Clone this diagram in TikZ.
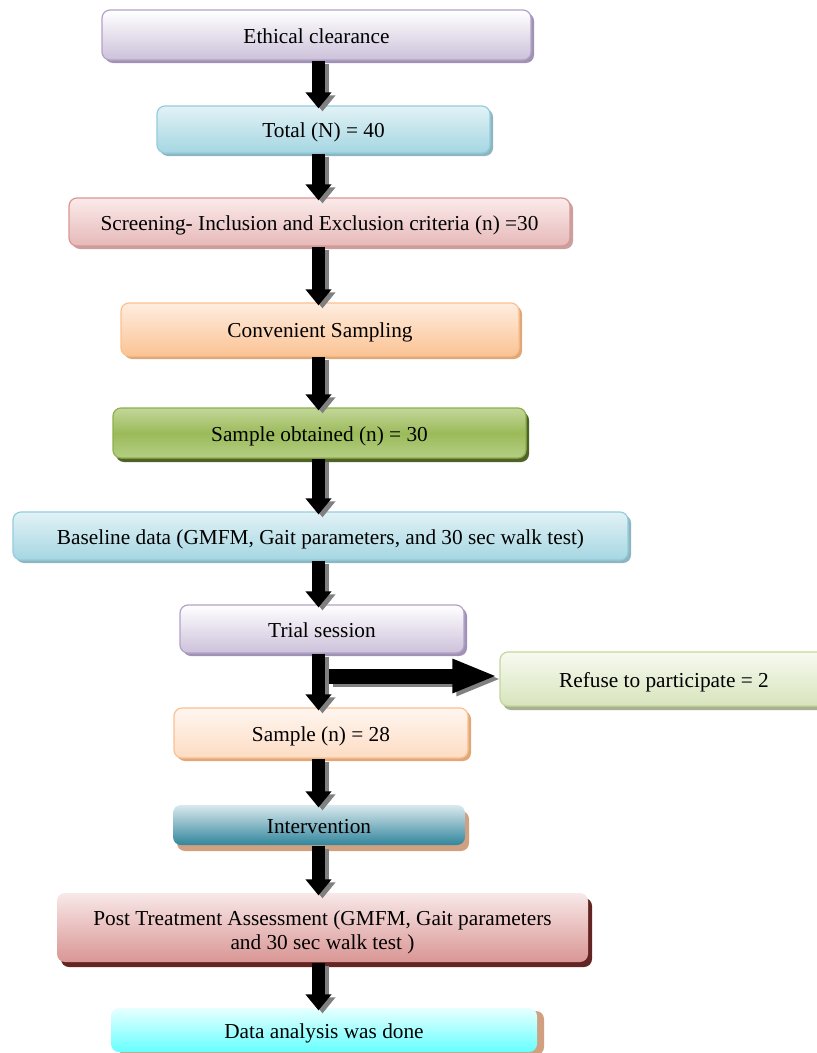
\documentclass[tikz,border=0pt]{standalone}
\usepackage{fontspec}
\setmainfont{Liberation Serif}
\usepackage{tikz}
\usetikzlibrary{arrows.meta,%
                shapes,shadows}
\definecolor{lilacedge}{HTML}{B3A2C7}
\definecolor{lilacfill}{HTML}{CCC1DA}
\definecolor{lilacshade}{HTML}{A092B5}
\definecolor{skyedge}{HTML}{93CDDD}
\definecolor{skytop}{HTML}{E2F2F6}
\definecolor{skyfill}{HTML}{A5D6E2}
\definecolor{skyshade}{HTML}{8DB6C2}
\definecolor{roseedge}{HTML}{D99694}
\definecolor{rosetop}{HTML}{FBEAEA}
\definecolor{rosefill}{HTML}{E6B9B8}
\definecolor{roseshade}{HTML}{C9A0A0}
\definecolor{peachedge}{HTML}{FAC090}
\definecolor{peachtop}{HTML}{FEEDE0}
\definecolor{peachfill}{HTML}{FBC393}
\definecolor{peachshade}{HTML}{E0A878}
\definecolor{paletop}{HTML}{FFF6F0}
\definecolor{palefill}{HTML}{FDDCC3}
\definecolor{leafedge}{HTML}{8EB04A}
\definecolor{leaftop}{HTML}{C3D69B}
\definecolor{leafmid}{HTML}{9BBB59}
\definecolor{leafbot}{HTML}{B5CE85}
\definecolor{leafshade}{HTML}{4F6228}
\definecolor{mossedge}{HTML}{C3D69B}
\definecolor{mosstop}{HTML}{F7FAF0}
\definecolor{mossfill}{HTML}{D7E4BD}
\definecolor{mossshade}{HTML}{A8B090}
\definecolor{tealtop}{HTML}{DAE9EE}
\definecolor{tealfill}{HTML}{31859C}
\definecolor{tanshade}{HTML}{D0A080}
\definecolor{winetop}{HTML}{F8E8E8}
\definecolor{winefill}{HTML}{D99694}
\definecolor{wineshade}{HTML}{632523}
\definecolor{aquatop}{HTML}{E8FFFF}
\definecolor{aquafill}{HTML}{66FFFF}
\definecolor{arrowshade}{HTML}{808080}
\tikzstyle{stage}=[rectangle,rounded corners=8bp,line width=1.2bp,inner sep=0pt,align=center,text height=17bp,text depth=1bp,font=\fontsize{21.3bp}{24bp}\selectfont]
\tikzstyle{lilacbox}=[stage,draw=lilacedge,top color=white,bottom color=lilacfill,drop shadow={shadow xshift=3bp,shadow yshift=-3bp,fill=lilacshade,opacity=1}]
\tikzstyle{skybox}=[stage,draw=skyedge,top color=skytop,bottom color=skyfill,drop shadow={shadow xshift=3bp,shadow yshift=-3bp,fill=skyshade,opacity=1}]
\tikzstyle{rosebox}=[stage,draw=roseedge,top color=rosetop,bottom color=rosefill,drop shadow={shadow xshift=3bp,shadow yshift=-3bp,fill=roseshade,opacity=1}]
\tikzstyle{peachbox}=[stage,draw=peachedge,top color=peachtop,bottom color=peachfill,drop shadow={shadow xshift=3bp,shadow yshift=-3bp,fill=peachshade,opacity=1}]
\tikzstyle{palebox}=[stage,draw=peachedge,top color=paletop,bottom color=palefill,drop shadow={shadow xshift=3bp,shadow yshift=-3bp,fill=peachshade,opacity=1}]
\tikzstyle{leafbox}=[stage,draw=leafedge,top color=leaftop,bottom color=leafbot,middle color=leafmid,drop shadow={shadow xshift=3bp,shadow yshift=-4bp,fill=leafshade,opacity=1}]
\tikzstyle{mossbox}=[stage,draw=mossedge,top color=mosstop,bottom color=mossfill,drop shadow={shadow xshift=3bp,shadow yshift=-4bp,fill=mossshade,opacity=1}]
\tikzstyle{tealbox}=[stage,top color=tealtop,bottom color=tealfill,drop shadow={shadow xshift=4bp,shadow yshift=-6bp,fill=tanshade,opacity=1}]
\tikzstyle{winebox}=[stage,top color=winetop,bottom color=winefill,drop shadow={shadow xshift=4bp,shadow yshift=-5bp,fill=wineshade,opacity=1}]
\tikzstyle{aquabox}=[stage,top color=aquatop,bottom color=aquafill,drop shadow={shadow xshift=7bp,shadow yshift=-3bp,fill=tanshade,opacity=1}]
\tikzstyle{flow}=[line width=13bp,-{Triangle[width=25bp,length=16bp]},shorten >=-3bp]
\tikzstyle{flowshade}=[flow,draw=arrowshade,fill=arrowshade,transform canvas={shift={(4bp,-3bp)}}]
\tikzstyle{branch}=[line width=15bp,-{Triangle[width=31bp,length=45bp]},shorten >=2bp]
\tikzstyle{branchshade}=[branch,draw=arrowshade,fill=arrowshade,transform canvas={shift={(4bp,-3bp)}}]

\begin{document}
\begin{tikzpicture}[>=latex,line join=miter]
	  \useasboundingbox (0bp,0bp) rectangle (817bp,-1053bp);
	  \coordinate (spine) at (318.5bp,0bp);
	  \node (ethics) at (316.5bp,-35bp) [lilacbox,minimum width=429bp,minimum height=50bp] {Ethical clearance};
	  \node (total) at (323.5bp,-129.5bp) [skybox,minimum width=333bp,minimum height=47bp] {Total (N) = 40};
	  \node (screen) at (319.5bp,-222bp) [rosebox,minimum width=501bp,minimum height=48bp] {Screening- Inclusion and Exclusion criteria (n) =30};
	  \node (convenient) at (320bp,-329.5bp) [peachbox,minimum width=398bp,minimum height=53bp] {Convenient Sampling};
	  \node (obtained) at (319.5bp,-433bp) [leafbox,minimum width=413bp,minimum height=50bp] {Sample obtained (n) = 30};
	  \node (baseline) at (320.5bp,-536bp) [skybox,minimum width=615bp,minimum height=48bp] {Baseline data (GMFM, Gait parameters, and 30 sec walk test)};
	  \node (trial) at (322bp,-629bp) [lilacbox,minimum width=284bp,minimum height=48bp] {Trial session};
	  \node (refuse) at (664bp,-679bp) [mossbox,minimum width=328bp,minimum height=54bp] {Refuse to participate = 2};
	  \node (sample) at (321bp,-733bp) [palebox,minimum width=294bp,minimum height=50bp] {Sample (n) = 28};
	  \node (intervention) at (319bp,-825bp) [tealbox,minimum width=292bp,minimum height=40bp] {Intervention};
	  \node (post) at (322.5bp,-927.5bp) [winebox,minimum width=531bp,minimum height=69bp,text height=44bp,text depth=0bp] {Post Treatment Assessment (GMFM, Gait parameters\\and 30 sec walk test )};
	  \node (analysis) at (324bp,-1030bp) [aquabox,minimum width=426bp,minimum height=44bp] {Data analysis was done};
	  \coordinate (split) at (329bp,-676bp);
	  %
	  \draw [flowshade] (ethics.south -| spine) -- (total.north -| spine);
	  \draw [flow] (ethics.south -| spine) -- (total.north -| spine);
	  \draw [flowshade] (total.south -| spine) -- (screen.north -| spine);
	  \draw [flow] (total.south -| spine) -- (screen.north -| spine);
	  \draw [flowshade] (screen.south -| spine) -- (convenient.north -| spine);
	  \draw [flow] (screen.south -| spine) -- (convenient.north -| spine);
	  \draw [flowshade] (convenient.south -| spine) -- (obtained.north -| spine);
	  \draw [flow] (convenient.south -| spine) -- (obtained.north -| spine);
	  \draw [flowshade] (obtained.south -| spine) -- (baseline.north -| spine);
	  \draw [flow] (obtained.south -| spine) -- (baseline.north -| spine);
	  \draw [flowshade] (baseline.south -| spine) -- (trial.north -| spine);
	  \draw [flow] (baseline.south -| spine) -- (trial.north -| spine);
	  \draw [flowshade] (trial.south -| spine) -- (sample.north -| spine);
	  \draw [flow] (trial.south -| spine) -- (sample.north -| spine);
	  \draw [branchshade] (split) -- (split -| refuse.west);
	  \draw [branch] (split) -- (split -| refuse.west);
	  \draw [flowshade] (sample.south -| spine) -- (intervention.north -| spine);
	  \draw [flow] (sample.south -| spine) -- (intervention.north -| spine);
	  \draw [flowshade] (intervention.south -| spine) -- (post.north -| spine);
	  \draw [flow] (intervention.south -| spine) -- (post.north -| spine);
	  \draw [flowshade] (post.south -| spine) -- (analysis.north -| spine);
	  \draw [flow] (post.south -| spine) -- (analysis.north -| spine);
    %
    \end{tikzpicture}
\end{document}
